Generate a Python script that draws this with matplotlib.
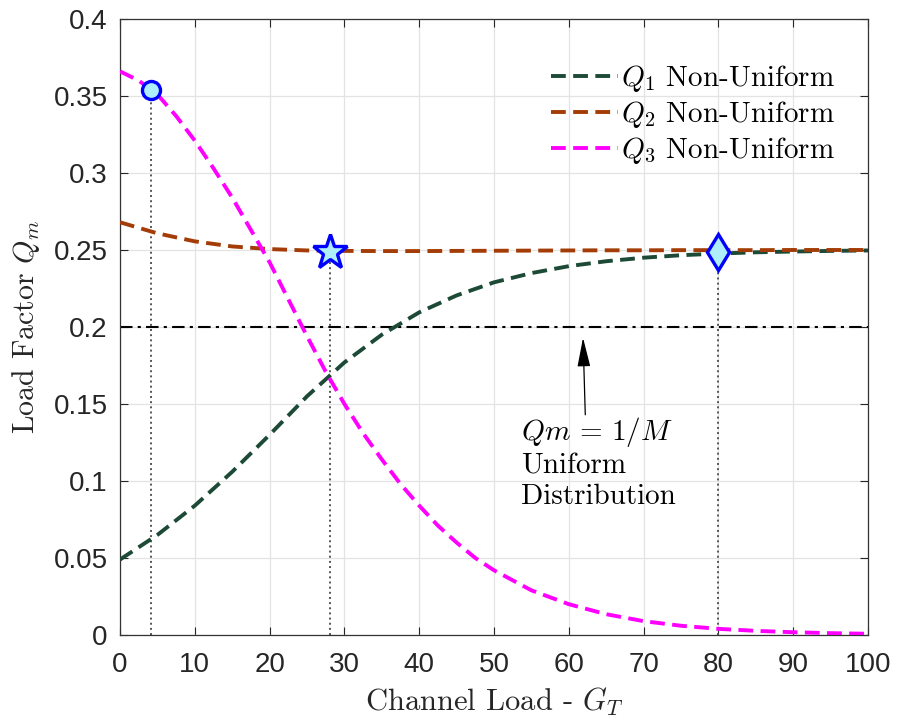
import numpy as np
import matplotlib
matplotlib.use("Agg")
import matplotlib.pyplot as plt

plt.rcParams['mathtext.fontset'] = 'cm'
plt.rcParams['axes.formatter.use_mathtext'] = False

# ---- data ----
G_T = [0, 5, 10, 15, 20, 25, 30, 35, 40, 45, 50, 55, 60, 65, 70, 75, 80, 85, 90, 95, 100]
Q1 = [0.049, 0.065, 0.084, 0.106, 0.130, 0.155, 0.177, 0.195, 0.2095, 0.2205, 0.229,
      0.235, 0.2395, 0.2427, 0.245, 0.2466, 0.2477, 0.2485, 0.249, 0.2494, 0.2497]
Q2 = [0.268, 0.2608, 0.2556, 0.2523, 0.2506, 0.2497, 0.2494, 0.2493, 0.2493, 0.2494, 0.2495,
      0.2496, 0.2497, 0.2498, 0.2498, 0.2499, 0.2499, 0.2499, 0.2500, 0.2500, 0.2500]
G_T3 = [0, 2.5, 5, 7.5, 10, 12.5, 15, 17.5, 20, 22.5, 25, 27.5, 30, 32.5, 35, 37.5, 40,
        42.5, 45, 47.5, 50, 55, 60, 65, 70, 75, 80, 85, 90, 95, 100]
Q3 = [0.366, 0.360, 0.351, 0.337, 0.321, 0.303, 0.284, 0.263, 0.242, 0.218, 0.194, 0.171,
      0.150, 0.131, 0.114, 0.098, 0.084, 0.071, 0.060, 0.050, 0.042, 0.029, 0.020, 0.0135,
      0.009, 0.006, 0.004, 0.0027, 0.0018, 0.0012, 0.0008]
labels = [r"$Q_1$ Non-Uniform", r"$Q_2$ Non-Uniform", r"$Q_3$ Non-Uniform"]
uniform_level = 0.2
marker_x = [4.1, 28.1, 80]
marker_y = [0.354, 0.249, 0.249]
marker_style = ['o', '*', 'd']
annot_text = "$Qm\\,=\\,1/M$\nUniform\nDistribution"

xticks = list(range(0, 101, 10))
yticks = [0, 0.05, 0.1, 0.15, 0.2, 0.25, 0.3, 0.35, 0.4]
ytick_labels = ['0', '0.05', '0.1', '0.15', '0.2', '0.25', '0.3', '0.35', '0.4']

colors = ['#1c4a36', '#a33c06', '#ff00ff']

fig = plt.figure(figsize=(8.97, 7.22), dpi=100)
ax = fig.add_axes([0.1338, 0.1205, 0.9677 - 0.1338, 0.9737 - 0.1205])

dash = (3.8, 1.9)
for xs, y, c, lab in zip([G_T, G_T, G_T3], [Q1, Q2, Q3], colors, labels):
    ax.plot(xs, y, color=c, lw=2.8, dashes=dash, label=lab, zorder=3)

ax.axhline(uniform_level, color='black', lw=1.5, ls='-.', dashes=(6, 2.5, 1.5, 2.5), zorder=2)

sizes = {'o': 13, '*': 26, 'd': 18}
for mx, my, ms in zip(marker_x, marker_y, marker_style):
    ax.plot([mx, mx], [0, my], color='#555555', lw=1.4, ls=':', zorder=2)
    ax.plot([mx], [my], marker=ms, ms=sizes[ms], mfc='#aeeefa', mec='#0000ff', mew=2.4,
            ls='none', zorder=5)

ax.annotate("", xy=(61.9, 0.193), xytext=(62.2, 0.143),
            arrowprops=dict(arrowstyle='-|>,head_length=0.9,head_width=0.2',
                            color='black', lw=0.9, mutation_scale=20,
                            shrinkA=0, shrinkB=0))
ax.text(53.6, 0.143, annot_text, family='cmr10', fontsize=21, va='top', ha='left',
        linespacing=1.2)

ax.set_xlim(0, 100)
ax.set_ylim(0, 0.4)
ax.set_xticks(xticks)
ax.set_yticks(yticks)
ax.set_xticklabels([str(t) for t in xticks])
ax.set_yticklabels(ytick_labels)
ax.tick_params(direction='in', length=6, width=0.8, top=True, right=True,
               labelsize=20, colors='#262626')
ax.tick_params(axis='x', pad=12)
ax.tick_params(axis='y', pad=9)
for lab in ax.get_xticklabels() + ax.get_yticklabels():
    lab.set_family('Liberation Sans')
for sp in ax.spines.values():
    sp.set_color('#333333')
    sp.set_linewidth(0.9)
ax.grid(True, color='#e3e3e3', lw=0.9)
ax.set_axisbelow(True)

ax.set_xlabel(r"Channel Load - $G_T$", family='cmr10', fontsize=22, color='#262626',
              labelpad=6)
ax.set_ylabel(r"Load Factor $Q_m$", family='cmr10', fontsize=21.5, color='#262626',
              labelpad=8)

leg = ax.legend(loc='upper right', bbox_to_anchor=(0.956, 0.928), frameon=False,
                prop={'family': 'cmr10', 'size': 21}, handlelength=2.3,
                handletextpad=0.1, labelspacing=0.17, borderpad=0, borderaxespad=0)

fig.savefig('out.png', dpi=100)
